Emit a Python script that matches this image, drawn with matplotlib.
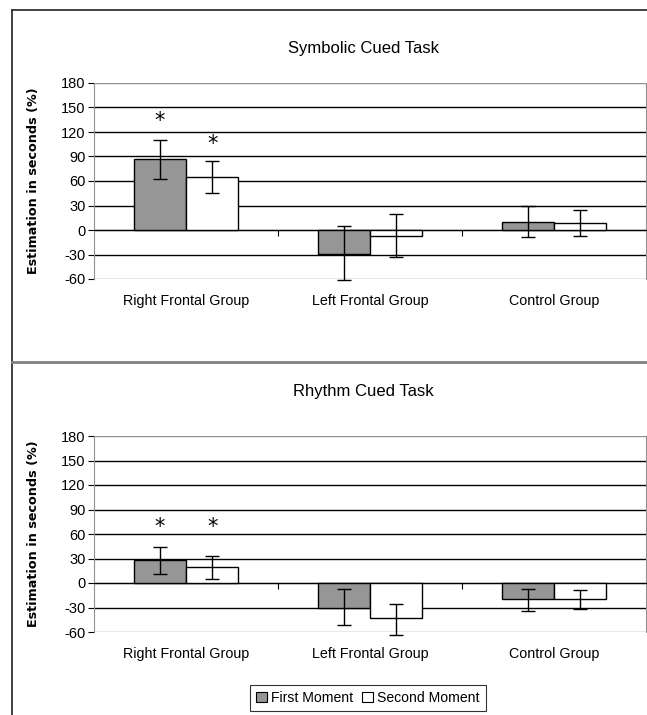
import matplotlib
matplotlib.use("Agg")
import matplotlib.pyplot as plt
from matplotlib.patches import Patch
from matplotlib.lines import Line2D
import numpy as np

categories = ["Right Frontal Group", "Left Frontal Group", "Control Group"]
series_names = ["First Moment", "Second Moment"]
yticks = [-60, -30, 0, 30, 60, 90, 120, 150, 180]

# Symbolic Cued Task
sym_first = [87, -29, 10]
sym_first_lo = [63, -61, -8]
sym_first_hi = [110, 5, 30]
sym_second = [65, -7, 8]
sym_second_lo = [45, -33, -7]
sym_second_hi = [84, 19, 24]
sym_star_first = [133, None, None]
sym_star_second = [105, None, None]

# Rhythm Cued Task
rhy_first = [28, -30, -20]
rhy_first_lo = [10.5, -52, -34]
rhy_first_hi = [43.5, -7, -7]
rhy_second = [19, -43, -20]
rhy_second_lo = [4.5, -64, -32]
rhy_second_hi = [32.5, -25.5, -8]
rhy_star_first = [69, None, None]
rhy_star_second = [69, None, None]

W, H = 647, 715
fig = plt.figure(figsize=(W / 100, H / 100), dpi=100)
fig.patch.set_facecolor("white")

FONT = "Liberation Sans"
colors = ["#969696", "#ffffff"]
bw = 0.285


def panel(top_px, title, first, flo, fhi, second, slo, shi, st1, st2, title_y):
    left_px, right_px, height_px = 94, 646, 196
    ax = fig.add_axes([left_px / W, 1 - (top_px + height_px) / H,
                       (right_px - left_px) / W, height_px / H])
    x = np.arange(len(categories))
    data = [(first, flo, fhi, st1), (second, slo, shi, st2)]
    for k, (vals, lo, hi, stars) in enumerate(data):
        xs = x + (k - 0.5) * bw
        ax.bar(xs, vals, width=bw, color=colors[k], edgecolor="black",
               linewidth=1.0, zorder=3)
        vals_a = np.array(vals, float)
        yerr = [vals_a - np.array(lo, float), np.array(hi, float) - vals_a]
        eb = ax.errorbar(xs, vals_a, yerr=yerr, fmt="none", ecolor="black",
                         elinewidth=1.0, capsize=5, capthick=1.0, zorder=4)
        for art in eb.lines[1] + eb.lines[2]:
            art.set_clip_on(False)
        for xi, s in zip(xs, stars):
            if s is not None:
                ax.text(xi, s, "*", ha="center", va="center", fontsize=15,
                        family="DejaVu Sans", zorder=5)
    for t in yticks[1:-1]:
        ax.axhline(t, color="black", linewidth=1.0, zorder=1)
    ax.axhline(yticks[-1], color="#909090", linewidth=1.0, zorder=1)
    ax.axhline(yticks[0], color="#909090", linewidth=1.0, zorder=1)
    ax.set_ylim(yticks[0], yticks[-1])
    ax.set_xlim(-0.5, len(categories) - 0.5)
    ax.set_yticks(yticks)
    ax.set_yticklabels([str(t) for t in yticks], family=FONT, fontsize=10.5)
    ax.tick_params(axis="y", direction="out", length=4, width=0.8,
                   color="black", pad=2)
    ax.spines["top"].set_visible(False)
    ax.spines["right"].set_color("#909090")
    ax.spines["left"].set_color("#909090")
    ax.spines["bottom"].set_position(("data", 0))
    ax.spines["bottom"].set_color("black")
    ax.set_xticks(np.arange(len(categories) - 1) + 0.5)
    ax.set_xticklabels([])
    ax.tick_params(axis="x", direction="out", length=4, width=0.8,
                   color="black")
    for i, c in enumerate(categories):
        ax.text(i, -0.11, c, transform=ax.get_xaxis_transform(),
                ha="center", va="center", family=FONT, fontsize=10.3)
    ax.set_ylabel("Estimation in seconds (%)", family="DejaVu Sans",
                  fontweight="bold", fontsize=9.2)
    ax.yaxis.set_label_coords((40 - left_px) / (right_px - left_px), 0.5)
    fig.text(363 / W, 1 - title_y / H, title, ha="center", va="center",
             family=FONT, fontsize=12)
    return ax


panel(83, "Symbolic Cued Task", sym_first, sym_first_lo, sym_first_hi,
      sym_second, sym_second_lo, sym_second_hi, sym_star_first,
      sym_star_second, 48)
panel(436, "Rhythm Cued Task", rhy_first, rhy_first_lo, rhy_first_hi,
      rhy_second, rhy_second_lo, rhy_second_hi, rhy_star_first,
      rhy_star_second, 391)

# panel borders
fig.add_artist(Line2D([12 / W, 12 / W], [0, 1 - 10 / H], color="#333333",
                      linewidth=1.3, transform=fig.transFigure))
fig.add_artist(Line2D([12 / W, 1], [1 - 10 / H, 1 - 10 / H], color="#333333",
                      linewidth=1.3, transform=fig.transFigure))
fig.add_artist(Line2D([12 / W, 1], [1 - 362 / H, 1 - 362 / H], color="#808080",
                      linewidth=2.0, transform=fig.transFigure))

handles = [Patch(facecolor=colors[k], edgecolor="black", linewidth=0.8)
           for k in range(2)]
leg = fig.legend(handles, series_names, loc="center",
                 bbox_to_anchor=(368 / W, 1 - 698 / H), ncol=2,
                 prop={"family": FONT, "size": 10.1}, frameon=True,
                 fancybox=False, edgecolor="black", handlelength=0.8,
                 handleheight=0.8, handletextpad=0.3, columnspacing=0.6,
                 borderpad=0.45, borderaxespad=0)
leg.get_frame().set_linewidth(0.8)

fig.savefig("out.png", dpi=100)
